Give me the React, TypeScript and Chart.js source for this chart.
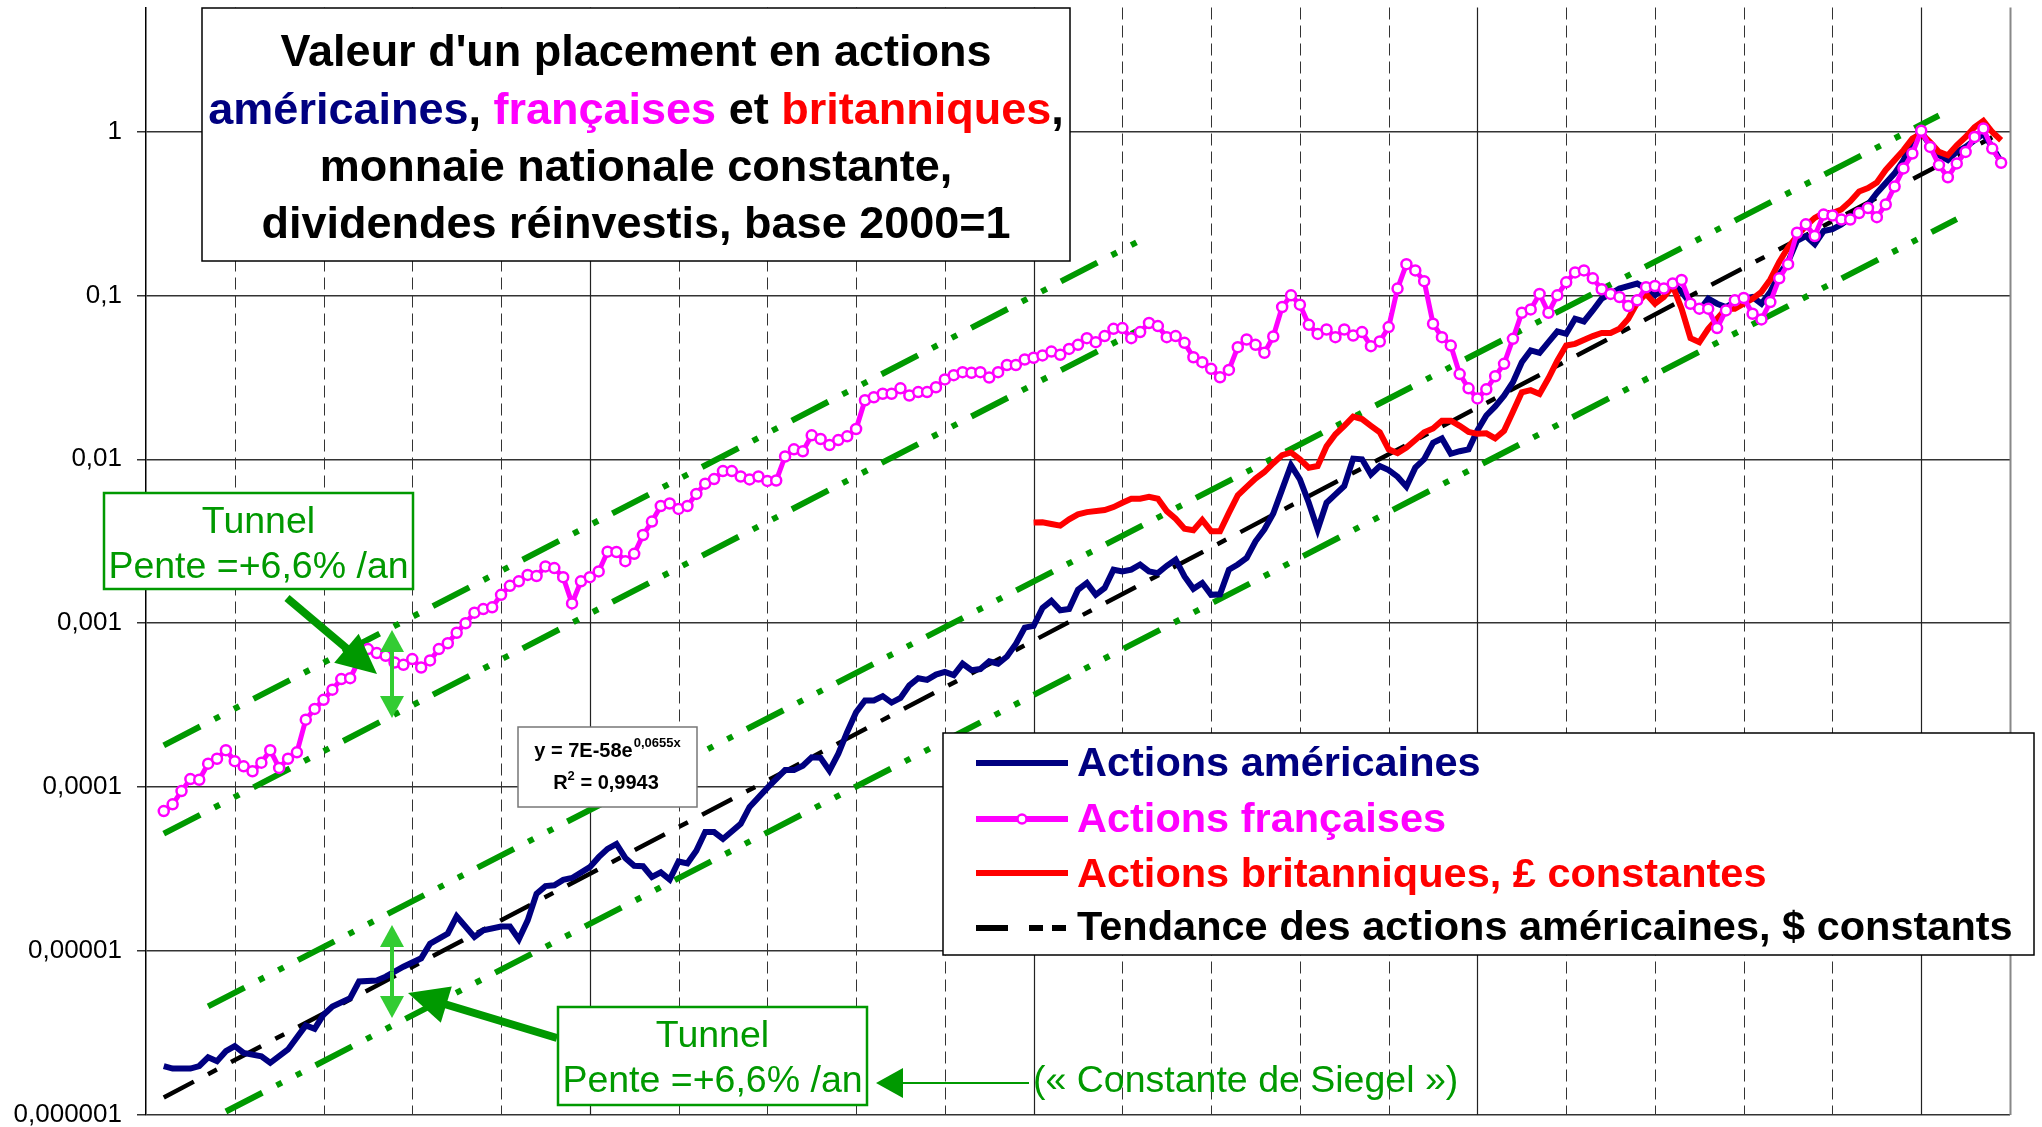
import React, { useEffect, useRef } from "react";
import { Chart, registerables } from "chart.js";
Chart.register(...registerables);

const FAMILY = "'Liberation Sans', Arial, sans-serif";

// ---------------- data ----------------
const usYears = [1802,1803,1805,1806,1807,1808,1809,1810,1811,1813,1814,1816,1818,1819,1820,1821,1823,1824,1826,1827,1829,1831,1832,1834,1835,1837,1838,1840,1841,1842,1843,1844,1845,1846,1847,1848,1850,1851,1852,1853,1854,1855,1856,1857,1858,1859,1860,1861,1862,1863,1864,1865,1867,1868,1870,1872,1873,1874,1875,1876,1877,1878,1879,1880,1881,1882,1883,1884,1885,1886,1887,1888,1889,1890,1891,1892,1893,1894,1895,1896,1897,1898,1899,1900,1901,1902,1903,1904,1905,1906,1907,1908,1909,1910,1911,1912,1913,1914,1915,1916,1917,1918,1919,1920,1921,1922,1923,1924,1925,1926,1927,1928,1929,1930,1931,1932,1933,1934,1935,1936,1937,1938,1939,1940,1941,1942,1943,1944,1945,1946,1947,1948,1949,1950,1951,1952,1953,1954,1955,1956,1957,1958,1959,1960,1961,1962,1963,1964,1965,1966,1968,1969,1970,1971,1972,1973,1974,1975,1976,1977,1978,1979,1980,1981,1982,1983,1984,1985,1986,1987,1988,1989,1990,1991,1992,1993,1994,1995,1997,1998,1999,2000,2001,2002,2003,2004,2005,2006,2007,2008,2009];
const usValues = [1.99e-6,1.92e-6,1.92e-6,1.99e-6,2.25e-6,2.13e-6,2.45e-6,2.63e-6,2.39e-6,2.28e-6,2.08e-6,2.51e-6,3.52e-6,3.36e-6,4.09e-6,4.59e-6,5.16e-6,6.52e-6,6.61e-6,6.98e-6,8.03e-6,9.03e-6,1.11e-5,1.28e-5,1.63e-5,1.22e-5,1.34e-5,1.41e-5,1.41e-5,1.18e-5,1.54e-5,2.24e-5,2.49e-5,2.52e-5,2.72e-5,2.79e-5,3.25e-5,3.74e-5,4.20e-5,4.50e-5,3.70e-5,3.31e-5,3.29e-5,2.83e-5,3.02e-5,2.73e-5,3.52e-5,3.43e-5,4.09e-5,5.32e-5,5.32e-5,4.83e-5,5.97e-5,7.57e-5,9.90e-5,1.27e-4,1.27e-4,1.35e-4,1.52e-4,1.51e-4,1.26e-4,1.60e-4,2.17e-4,2.86e-4,3.38e-4,3.38e-4,3.59e-4,3.28e-4,3.50e-4,4.18e-4,4.62e-4,4.51e-4,4.86e-4,5.04e-4,4.82e-4,5.66e-4,5.17e-4,5.25e-4,5.86e-4,5.66e-4,6.26e-4,7.48e-4,9.40e-4,9.64e-4,1.24e-3,1.37e-3,1.20e-3,1.22e-3,1.60e-3,1.76e-3,1.49e-3,1.64e-3,2.12e-3,2.07e-3,2.12e-3,2.28e-3,2.07e-3,2.02e-3,2.24e-3,2.44e-3,1.93e-3,1.62e-3,1.76e-3,1.49e-3,1.50e-3,2.12e-3,2.28e-3,2.50e-3,3.16e-3,3.73e-3,4.67e-3,6.55e-3,9.19e-3,7.54e-3,5.43e-3,3.73e-3,5.43e-3,6.11e-3,6.87e-3,1.01e-2,1.00e-2,8.09e-3,9.10e-3,8.60e-3,7.83e-3,6.81e-3,8.89e-3,1.00e-2,1.26e-2,1.34e-2,1.08e-2,1.12e-2,1.15e-2,1.50e-2,1.85e-2,2.10e-2,2.44e-2,2.95e-2,3.91e-2,4.61e-2,4.46e-2,5.18e-2,6.02e-2,5.82e-2,7.20e-2,6.93e-2,8.09e-2,9.55e-2,0.102,0.110,0.118,0.110,0.100,0.110,0.118,0.105,0.0889,0.0809,0.0955,0.0889,0.0849,0.0910,0.0955,0.0977,0.0889,0.105,0.135,0.160,0.215,0.230,0.205,0.247,0.253,0.271,0.297,0.326,0.358,0.421,0.555,0.668,0.883,0.991,0.823,0.716,0.668,0.750,0.804,0.883,0.968,0.804,0.653];

const frYears = [1802,1803,1804,1805,1806,1807,1808,1809,1810,1811,1812,1813,1814,1815,1816,1817,1818,1819,1820,1821,1822,1823,1824,1825,1826,1827,1828,1829,1830,1831,1832,1833,1834,1835,1836,1837,1838,1839,1840,1841,1842,1843,1844,1845,1846,1847,1848,1849,1850,1851,1852,1853,1854,1855,1856,1857,1858,1859,1860,1861,1862,1863,1864,1865,1866,1867,1868,1869,1870,1871,1872,1873,1874,1875,1876,1877,1878,1879,1880,1881,1882,1883,1884,1885,1886,1887,1888,1889,1890,1891,1892,1893,1894,1895,1896,1897,1898,1899,1900,1901,1902,1903,1904,1905,1906,1907,1908,1909,1910,1911,1912,1913,1914,1915,1916,1917,1918,1919,1920,1921,1922,1923,1924,1925,1926,1927,1928,1929,1930,1931,1932,1933,1934,1935,1936,1937,1938,1939,1940,1941,1942,1943,1944,1945,1946,1947,1948,1949,1950,1951,1952,1953,1954,1955,1956,1957,1958,1959,1960,1961,1962,1963,1964,1965,1966,1967,1968,1969,1970,1971,1972,1973,1974,1975,1976,1977,1978,1979,1980,1981,1982,1983,1984,1985,1986,1987,1988,1989,1990,1991,1992,1993,1994,1995,1996,1997,1998,1999,2000,2001,2002,2003,2004,2005,2006,2007,2008,2009];
const frValues = [7.14e-5,7.85e-5,9.46e-5,1.12e-4,1.11e-4,1.39e-4,1.49e-4,1.68e-4,1.44e-4,1.34e-4,1.25e-4,1.41e-4,1.68e-4,1.31e-4,1.49e-4,1.63e-4,2.58e-4,3.00e-4,3.41e-4,3.93e-4,4.56e-4,4.62e-4,5.93e-4,6.95e-4,6.57e-4,6.33e-4,5.76e-4,5.57e-4,6.04e-4,5.37e-4,5.93e-4,6.95e-4,7.55e-4,8.75e-4,1.00e-3,1.16e-3,1.22e-3,1.25e-3,1.49e-3,1.69e-3,1.80e-3,1.97e-3,1.94e-3,2.22e-3,2.17e-3,1.91e-3,1.32e-3,1.80e-3,1.91e-3,2.07e-3,2.73e-3,2.72e-3,2.39e-3,2.65e-3,3.45e-3,4.17e-3,5.19e-3,5.37e-3,4.98e-3,5.19e-3,6.15e-3,7.10e-3,7.57e-3,8.47e-3,8.47e-3,7.85e-3,7.54e-3,7.85e-3,7.38e-3,7.42e-3,1.04e-2,1.15e-2,1.12e-2,1.40e-2,1.33e-2,1.22e-2,1.31e-2,1.38e-2,1.53e-2,2.29e-2,2.39e-2,2.51e-2,2.51e-2,2.71e-2,2.45e-2,2.57e-2,2.57e-2,2.75e-2,3.07e-2,3.26e-2,3.40e-2,3.37e-2,3.40e-2,3.15e-2,3.40e-2,3.76e-2,3.76e-2,4.06e-2,4.16e-2,4.30e-2,4.54e-2,4.34e-2,4.71e-2,4.99e-2,5.48e-2,5.18e-2,5.64e-2,6.25e-2,6.31e-2,5.48e-2,5.97e-2,6.78e-2,6.49e-2,5.56e-2,5.64e-2,5.13e-2,4.19e-2,3.91e-2,3.56e-2,3.16e-2,3.51e-2,4.83e-2,5.38e-2,4.99e-2,4.46e-2,5.61e-2,8.49e-2,0.100,8.77e-2,6.61e-2,5.82e-2,6.19e-2,5.56e-2,6.19e-2,5.69e-2,5.97e-2,4.90e-2,5.23e-2,6.40e-2,0.110,0.155,0.142,0.122,6.71e-2,5.56e-2,4.94e-2,3.31e-2,2.71e-2,2.35e-2,2.67e-2,3.21e-2,3.82e-2,5.43e-2,7.83e-2,8.21e-2,0.102,7.83e-2,0.100,0.120,0.138,0.142,0.127,0.109,0.102,9.77e-2,8.61e-2,9.32e-2,0.112,0.114,0.110,0.118,0.124,8.89e-2,8.29e-2,8.29e-2,6.31e-2,8.09e-2,9.32e-2,9.63e-2,7.72e-2,7.13e-2,9.10e-2,0.127,0.155,0.241,0.271,0.230,0.311,0.307,0.290,0.290,0.318,0.341,0.300,0.358,0.461,0.595,0.733,1.01,0.804,0.623,0.525,0.638,0.750,0.925,1.04,0.786,0.644];

const ukYears = [1900,1901,1902,1903,1904,1905,1906,1908,1909,1910,1911,1912,1913,1914,1915,1916,1917,1918,1919,1920,1921,1922,1923,1924,1925,1926,1927,1928,1929,1930,1931,1932,1933,1934,1935,1936,1937,1938,1939,1940,1941,1942,1943,1944,1945,1946,1947,1948,1949,1950,1951,1952,1953,1954,1955,1956,1957,1958,1959,1960,1961,1963,1964,1965,1966,1967,1968,1969,1970,1971,1972,1973,1974,1975,1976,1977,1978,1979,1980,1981,1982,1983,1984,1985,1986,1987,1988,1989,1990,1991,1992,1993,1994,1995,1996,1997,1998,1999,2000,2001,2002,2003,2004,2005,2006,2007,2008,2009];
const ukValues = [4.11e-3,4.13e-3,4.03e-3,3.94e-3,4.30e-3,4.61e-3,4.76e-3,4.90e-3,5.11e-3,5.43e-3,5.74e-3,5.74e-3,5.90e-3,5.74e-3,4.83e-3,4.34e-3,3.77e-3,3.69e-3,4.26e-3,3.64e-3,3.64e-3,4.71e-3,6.02e-3,6.78e-3,7.62e-3,8.36e-3,9.46e-3,1.06e-2,1.10e-2,1.00e-2,8.89e-3,9.10e-3,1.20e-2,1.42e-2,1.60e-2,1.82e-2,1.76e-2,1.60e-2,1.46e-2,1.15e-2,1.09e-2,1.18e-2,1.31e-2,1.46e-2,1.54e-2,1.72e-2,1.72e-2,1.60e-2,1.47e-2,1.43e-2,1.44e-2,1.34e-2,1.49e-2,1.95e-2,2.56e-2,2.64e-2,2.50e-2,3.12e-2,4.00e-2,4.94e-2,5.06e-2,5.64e-2,5.90e-2,5.90e-2,6.25e-2,7.20e-2,9.02e-2,0.102,8.89e-2,9.77e-2,0.114,8.29e-2,5.48e-2,5.18e-2,6.25e-2,7.20e-2,8.29e-2,8.29e-2,8.89e-2,9.55e-2,0.105,0.125,0.160,0.196,0.230,0.265,0.297,0.318,0.318,0.334,0.374,0.430,0.451,0.488,0.582,0.668,0.768,0.903,0.968,0.862,0.750,0.716,0.823,0.924,1.06,1.16,0.991,0.883];

// exponential trend y = 7E-58 e^(0.0655x): a straight line on the log axis, read at its two ends
const trendYears = [1802, 2008];
const trendValues = [1.28e-6, 0.92];

// tunnels (+6,6 %/an), read at their ends
const frTunnelUpYears = [1802, 1912];
const frTunnelUpValues = [1.8e-4, 0.216];
const frTunnelLowYears = [1802, 1912];
const frTunnelLowValues = [5.2e-5, 6.2e-2];
const usTunnelUpYears = [1807, 2002];
const usTunnelUpValues = [4.6e-6, 1.25];
const usTunnelLowYears = [1809, 2004];
const usTunnelLowValues = [1.05e-6, 0.292];

const yTickValues = [0.000001, 0.00001, 0.0001, 0.001, 0.01, 0.1, 1];
const yTickLabels = ["0,000001", "0,00001", "0,0001", "0,001", "0,01", "0,1", "1"];
const gridYears = [1810,1820,1830,1840,1850,1860,1870,1880,1890,1900,1910,1920,1930,1940,1950,1960,1970,1980,1990,2000,2010];

const NAVY = "#000080";
const MAGENTA = "#FF00FF";
const RED = "#FF0000";
const GREEN = "#009900";
const LIGHTGREEN = "#33CC33";

const pts = (xs: number[], ys: number[]) => xs.map((x, i) => ({ x, y: ys[i] }));

function drawBox(ctx: any, x: number, y: number, w: number, h: number, stroke: string, lw: number) {
  ctx.save();
  ctx.setLineDash([]);
  ctx.fillStyle = "#fff";
  ctx.fillRect(x, y, w, h);
  ctx.strokeStyle = stroke;
  ctx.lineWidth = lw;
  ctx.strokeRect(x, y, w, h);
  ctx.restore();
}

function drawSegments(ctx: any, segs: [string, string][], cx: number, baseline: number, font: string) {
  ctx.save();
  ctx.font = font;
  ctx.textAlign = "left";
  ctx.textBaseline = "alphabetic";
  const widths = segs.map((s) => ctx.measureText(s[0]).width);
  const total = widths.reduce((a, b) => a + b, 0);
  let x = cx - total / 2;
  segs.forEach((s, i) => {
    ctx.fillStyle = s[1];
    ctx.fillText(s[0], x, baseline);
    x += widths[i];
  });
  ctx.restore();
}

function drawArrow(ctx: any, x1: number, y1: number, x2: number, y2: number, lw: number, headLen: number, headHalf: number, color: string) {
  const dx = x2 - x1, dy = y2 - y1;
  const len = Math.hypot(dx, dy);
  const ux = dx / len, uy = dy / len;
  const bx = x2 - ux * headLen, by = y2 - uy * headLen;
  ctx.save();
  ctx.setLineDash([]);
  ctx.strokeStyle = color;
  ctx.fillStyle = color;
  ctx.lineWidth = lw;
  ctx.lineCap = "butt";
  ctx.beginPath();
  ctx.moveTo(x1, y1);
  ctx.lineTo(bx + ux * 2, by + uy * 2);
  ctx.stroke();
  ctx.beginPath();
  ctx.moveTo(x2, y2);
  ctx.lineTo(bx - uy * headHalf, by + ux * headHalf);
  ctx.lineTo(bx + uy * headHalf, by - ux * headHalf);
  ctx.closePath();
  ctx.fill();
  ctx.restore();
}

function drawDoubleArrow(ctx: any, x: number, y1: number, y2: number) {
  const mid = (y1 + y2) / 2;
  drawArrow(ctx, x, mid, x, y1, 4, 22, 12, LIGHTGREEN);
  drawArrow(ctx, x, mid, x, y2, 4, 22, 12, LIGHTGREEN);
}

const overlay = {
  id: "overlay",
  beforeDatasetsDraw(chart: any) {
    const { ctx, chartArea, scales } = chart;
    const x = scales.x;
    ctx.save();
    for (const yr of gridYears) {
      const px = Math.round(x.getPixelForValue(yr)) + 0.5;
      const major = yr % 50 === 0;
      ctx.beginPath();
      if (yr === 2010) {
        ctx.setLineDash([]);
        ctx.strokeStyle = "#888";
        ctx.lineWidth = 2;
      } else if (major) {
        ctx.setLineDash([]);
        ctx.strokeStyle = "#222";
        ctx.lineWidth = 1.2;
      } else {
        ctx.setLineDash([12, 6]);
        ctx.strokeStyle = "#333";
        ctx.lineWidth = 1;
      }
      ctx.moveTo(px, chartArea.top);
      ctx.lineTo(px, chartArea.bottom);
      ctx.stroke();
    }
    ctx.restore();
  },
  afterDatasetsDraw(chart: any) {
    const { ctx } = chart;

    // Title box
    drawBox(ctx, 202, 8, 868, 253, "#000", 1.5);
    const tf = `bold 45px ${FAMILY}`;
    drawSegments(ctx, [["Valeur d'un placement en actions", "#000"]], 636, 66, tf);
    drawSegments(ctx, [["américaines", NAVY], [", ", "#000"], ["françaises", MAGENTA], [" et ", "#000"], ["britanniques", RED], [",", "#000"]], 636, 124, tf);
    drawSegments(ctx, [["monnaie nationale constante,", "#000"]], 636, 181, tf);
    drawSegments(ctx, [["dividendes réinvestis, base 2000=1", "#000"]], 636, 238, tf);

    // Regression box
    drawBox(ctx, 518, 727, 179, 80, "#777", 1.5);
    ctx.save();
    ctx.fillStyle = "#000";
    ctx.textBaseline = "alphabetic";
    ctx.textAlign = "left";
    const rf = `bold 20px ${FAMILY}`;
    const sf = `bold 13px ${FAMILY}`;
    ctx.font = rf;
    const a1 = "y = 7E-58e";
    const w1 = ctx.measureText(a1).width;
    ctx.font = sf;
    const s1 = "0,0655x";
    const ws1 = ctx.measureText(s1).width;
    let sx = 607 - (w1 + ws1) / 2;
    ctx.font = rf;
    ctx.fillText(a1, sx, 757);
    ctx.font = sf;
    ctx.fillText(s1, sx + w1 + 1, 747);
    ctx.font = rf;
    const a2 = "R";
    const b2 = " = 0,9943";
    const wa = ctx.measureText(a2).width;
    const wb = ctx.measureText(b2).width;
    ctx.font = sf;
    const ws2 = ctx.measureText("2").width;
    sx = 606 - (wa + ws2 + wb) / 2;
    ctx.font = rf;
    ctx.fillText(a2, sx, 789);
    ctx.font = sf;
    ctx.fillText("2", sx + wa, 780);
    ctx.font = rf;
    ctx.fillText(b2, sx + wa + ws2, 789);
    ctx.restore();

    // Tunnel boxes
    const gf = `37.5px ${FAMILY}`;
    drawBox(ctx, 104, 493, 309, 96, GREEN, 2.5);
    drawSegments(ctx, [["Tunnel", GREEN]], 258.5, 533, gf);
    drawSegments(ctx, [["Pente =+6,6% /an", GREEN]], 258.5, 578, gf);
    drawBox(ctx, 558, 1007, 309, 98, GREEN, 2.5);
    drawSegments(ctx, [["Tunnel", GREEN]], 712.5, 1047, gf);
    drawSegments(ctx, [["Pente =+6,6% /an", GREEN]], 712.5, 1092, gf);

    // Arrows
    drawArrow(ctx, 287, 598, 377, 674, 8, 40, 19, GREEN);
    drawArrow(ctx, 557, 1038, 408, 993, 8, 40, 19, GREEN);
    drawDoubleArrow(ctx, 392, 630, 718);
    drawDoubleArrow(ctx, 392, 925, 1018);
    drawArrow(ctx, 1029, 1083, 876, 1083, 2, 27, 15, GREEN);
    ctx.save();
    ctx.font = gf;
    ctx.fillStyle = GREEN;
    ctx.textAlign = "left";
    ctx.textBaseline = "alphabetic";
    ctx.fillText("(« Constante de Siegel »)", 1033, 1092);
    ctx.restore();

    // Legend
    drawBox(ctx, 943, 733, 1091, 222, "#000", 1.5);
    const lf = `bold 41.5px ${FAMILY}`;
    const rows: [string, string, number, number][] = [
      ["Actions américaines", NAVY, 763, 776],
      ["Actions françaises", MAGENTA, 819, 832],
      ["Actions britanniques, £ constantes", RED, 873, 887],
      ["Tendance des actions américaines, $ constants", "#000", 928, 940],
    ];
    ctx.save();
    ctx.lineCap = "butt";
    rows.forEach((r, i) => {
      ctx.setLineDash([]);
      ctx.strokeStyle = r[1];
      ctx.lineWidth = 6;
      if (i === 3) {
        const segs = [[976, 1008], [1029, 1043], [1052, 1066]];
        segs.forEach((s) => {
          ctx.beginPath();
          ctx.moveTo(s[0], r[2]);
          ctx.lineTo(s[1], r[2]);
          ctx.stroke();
        });
      } else {
        ctx.beginPath();
        ctx.moveTo(976, r[2]);
        ctx.lineTo(1068, r[2]);
        ctx.stroke();
      }
      if (i === 1) {
        ctx.beginPath();
        ctx.arc(1022, r[2], 4.5, 0, Math.PI * 2);
        ctx.fillStyle = "#fff";
        ctx.fill();
        ctx.lineWidth = 2.5;
        ctx.stroke();
      }
      ctx.font = lf;
      ctx.fillStyle = r[1];
      ctx.textAlign = "left";
      ctx.textBaseline = "alphabetic";
      ctx.fillText(r[0], 1077, r[3]);
    });
    ctx.restore();
  },
};

const tunnelStyle = {
  borderColor: GREEN,
  borderWidth: 6,
  borderDash: [41, 16, 6, 16, 6, 16],
  borderCapStyle: "butt",
  pointRadius: 0,
  order: 4,
};

export default function App() {
  const ref = useRef<HTMLCanvasElement>(null);
  useEffect(() => {
    if (!ref.current) return;
    const chart = new Chart(ref.current, {
      type: "line",
      data: {
        datasets: [
          { label: "Actions françaises", data: pts(frYears, frValues), borderColor: MAGENTA, borderWidth: 5, pointRadius: 5, pointBorderWidth: 2.5, pointBorderColor: MAGENTA, pointBackgroundColor: "#fff", order: 0 },
          { label: "Actions britanniques, £ constantes", data: pts(ukYears, ukValues), borderColor: RED, borderWidth: 6, pointRadius: 0, order: 1 },
          { label: "Actions américaines", data: pts(usYears, usValues), borderColor: NAVY, borderWidth: 6, pointRadius: 0, order: 2 },
          { label: "Tendance", data: pts(trendYears, trendValues), borderColor: "#000", borderWidth: 4.5, borderDash: [34, 16, 10, 16], pointRadius: 0, order: 3 },
          { label: "t1", data: pts(frTunnelUpYears, frTunnelUpValues), ...tunnelStyle },
          { label: "t2", data: pts(frTunnelLowYears, frTunnelLowValues), ...tunnelStyle },
          { label: "t3", data: pts(usTunnelUpYears, usTunnelUpValues), ...tunnelStyle },
          { label: "t4", data: pts(usTunnelLowYears, usTunnelLowValues), ...tunnelStyle },
        ] as any,
      },
      options: {
        animation: false,
        responsive: false,
        devicePixelRatio: 1,
        layout: { padding: { top: 7, right: 32, bottom: 12, left: 0 } },
        plugins: { legend: { display: false }, tooltip: { enabled: false } },
        elements: { line: { tension: 0 } },
        scales: {
          x: { type: "linear", min: 1800, max: 2010, display: false },
          y: {
            type: "logarithmic",
            min: 0.000001,
            max: 5.7,
            afterFit: (s: any) => {
              s.width = 146;
              s.paddingTop = 0;
              s.paddingBottom = 0;
            },
            afterBuildTicks: (s: any) => { s.ticks = yTickValues.map((v) => ({ value: v })); },
            ticks: {
              autoSkip: false,
              padding: 15,
              color: "#000",
              font: { family: FAMILY, size: 26 },
              callback: (_v: any, i: number) => yTickLabels[i] ?? "",
            },
            grid: { color: "#333", lineWidth: 1.5, tickLength: 9, drawTicks: true },
            border: { color: "#000", width: 1.5 },
          },
        },
      } as any,
      plugins: [overlay],
    });
    return () => chart.destroy();
  }, []);
  return (
    <div style={{ position: "absolute", left: 0, top: 0, width: 2042, height: 1127, background: "#fff" }}>
      <canvas ref={ref} width={2042} height={1127} style={{ display: "block", width: 2042, height: 1127 }} />
    </div>
  );
}
